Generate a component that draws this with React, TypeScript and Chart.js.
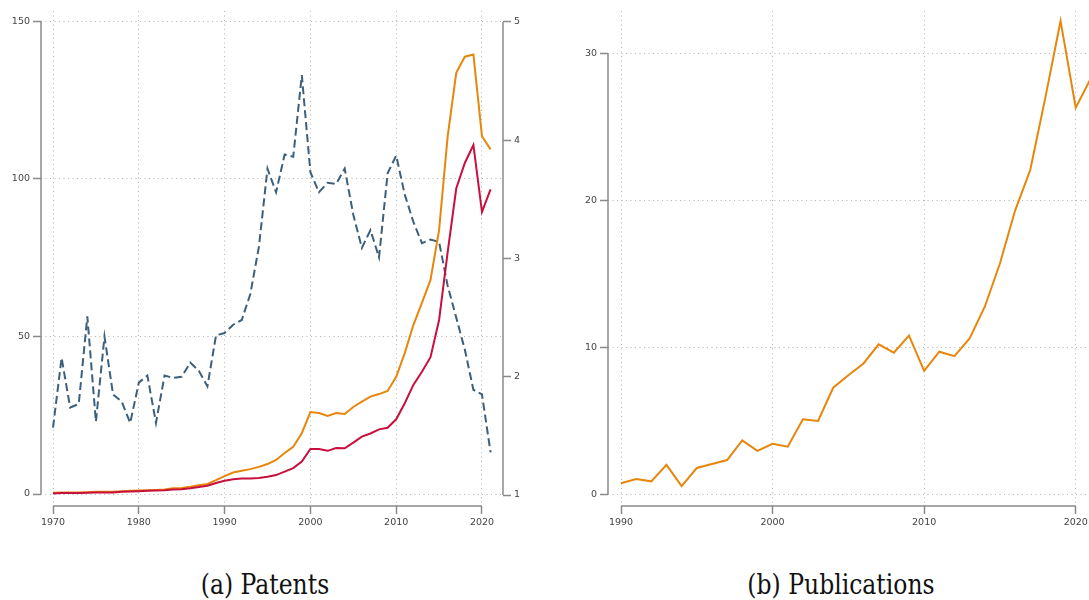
import React, { useEffect, useRef } from "react";
import { Chart, registerables } from "chart.js";

Chart.register(...registerables);

// ---------- Data: (a) Patents ----------
const patentYears = [
  1970, 1971, 1972, 1973, 1974, 1975, 1976, 1977, 1978, 1979,
  1980, 1981, 1982, 1983, 1984, 1985, 1986, 1987, 1988, 1989,
  1990, 1991, 1992, 1993, 1994, 1995, 1996, 1997, 1998, 1999,
  2000, 2001, 2002, 2003, 2004, 2005, 2006, 2007, 2008, 2009,
  2010, 2011, 2012, 2013, 2014, 2015, 2016, 2017, 2018, 2019,
  2020, 2021,
];
const patentsOrange = [
  0.4, 0.5, 0.5, 0.5, 0.6, 0.7, 0.7, 0.7, 0.9, 1.0,
  1.1, 1.2, 1.3, 1.4, 1.8, 1.9, 2.3, 2.8, 3.2, 4.4,
  5.7, 6.8, 7.4, 7.9, 8.6, 9.5, 10.8, 13.0, 15.0, 19.3,
  26.0, 25.7, 24.8, 25.7, 25.4, 27.6, 29.3, 30.9, 31.7, 32.7,
  37.2, 44.7, 53.6, 60.6, 67.9, 83.7, 113.4, 133.6, 138.7, 139.4,
  113.5, 109.3,
];
const patentsRed = [
  0.2, 0.3, 0.3, 0.3, 0.4, 0.5, 0.5, 0.5, 0.7, 0.8,
  0.9, 1.0, 1.1, 1.2, 1.4, 1.5, 1.8, 2.2, 2.6, 3.5,
  4.2, 4.7, 4.9, 4.9, 5.1, 5.5, 6.0, 7.1, 8.2, 10.3,
  14.3, 14.3, 13.7, 14.6, 14.5, 16.3, 18.2, 19.2, 20.5, 21.0,
  23.7, 28.8, 34.6, 38.8, 43.4, 55.2, 76.7, 96.9, 105.0, 110.7,
  89.5, 96.6,
];
const patentsShare = [
  1.57, 2.16, 1.74, 1.77, 2.51, 1.62, 2.34, 1.85, 1.79, 1.61,
  1.95, 2.01, 1.61, 2.01, 1.99, 2.0, 2.12, 2.05, 1.92, 2.35,
  2.37, 2.44, 2.48, 2.7, 3.1, 3.76, 3.56, 3.88, 3.86, 4.55,
  3.73, 3.56, 3.64, 3.63, 3.76, 3.37, 3.09, 3.24, 3.01, 3.72,
  3.87, 3.54, 3.31, 3.13, 3.16, 3.14, 2.77, 2.5, 2.23, 1.89,
  1.85, 1.36,
];
const patentXTicks = [1970, 1980, 1990, 2000, 2010, 2020];
const patentYTicks = [0, 50, 100, 150];
const shareTicks = [1, 2, 3, 4, 5];

// ---------- Data: (b) Publications ----------
const pubYears = [
  1990, 1991, 1992, 1993, 1994, 1995, 1996, 1997, 1998, 1999,
  2000, 2001, 2002, 2003, 2004, 2005, 2006, 2007, 2008, 2009,
  2010, 2011, 2012, 2013, 2014, 2015, 2016, 2017, 2018, 2019,
  2020, 2021,
];
const publications = [
  0.75, 1.04, 0.88, 2.0, 0.56, 1.79, 2.06, 2.33, 3.67, 2.95,
  3.44, 3.24, 5.1, 4.99, 7.25, 8.1, 8.9, 10.2, 9.63, 10.8,
  8.4, 9.7, 9.4, 10.6, 12.76, 15.7, 19.3, 22.06, 27.0, 32.2,
  26.3, 28.3,
];
const pubXTicks = [1990, 2000, 2010, 2020];
const pubYTicks = [0, 10, 20, 30];

const captions = ["(a) Patents", "(b) Publications"];

// ---------- Styles ----------
const ORANGE = "#e8860c";
const RED = "#c8103e";
const BLUE = "#3c5f7c";
const GRID = "#b4b4b4";
const AXIS = "#8a8a8a";
const TICKFONT = { family: "DejaVu Sans", size: 9.5 };
const TICKCOLOR = "#444";

const rangeAxes = {
  id: "rangeAxes",
  afterDraw(chart: any) {
    const ctx = chart.ctx;
    const ca = chart.chartArea;
    ctx.save();
    ctx.strokeStyle = AXIS;
    ctx.lineWidth = 1.5;
    ctx.setLineDash([]);
    for (const id of Object.keys(chart.scales)) {
      const s = chart.scales[id];
      const t = s.ticks;
      if (!t || !t.length) continue;
      const a = s.getPixelForValue(t[0].value);
      const b = s.getPixelForValue(t[t.length - 1].value);
      ctx.beginPath();
      if (s.isHorizontal()) {
        ctx.moveTo(a, ca.bottom);
        ctx.lineTo(b, ca.bottom);
      } else {
        const x = s.position === "right" ? ca.right : ca.left;
        ctx.moveTo(x, a);
        ctx.lineTo(x, b);
      }
      ctx.stroke();
    }
    ctx.restore();
  },
};

function setTicks(vals: number[]) {
  return (scale: any) => {
    scale.ticks = vals.map((v) => ({ value: v }));
  };
}
function fixWidth(w: number) {
  return (scale: any) => {
    scale.width = w;
  };
}
function fixHeight(h: number) {
  return (scale: any) => {
    scale.height = h;
  };
}

function gridOpts(onArea: boolean) {
  return {
    display: true,
    drawOnChartArea: onArea,
    drawTicks: true,
    color: GRID,
    lineWidth: 1,
    tickLength: 8,
    tickColor: AXIS,
    tickWidth: 1.5,
    tickBorderDash: [],
  };
}
const borderOpts = { display: false, dash: [1, 3.5] };
function tickOpts() {
  return {
    font: TICKFONT,
    color: TICKCOLOR,
    padding: 3,
    maxRotation: 0,
    autoSkip: false,
    callback: (v: any) => String(v),
  };
}

export default function App() {
  const leftRef = useRef<HTMLCanvasElement>(null);
  const rightRef = useRef<HTMLCanvasElement>(null);

  useEffect(() => {
    const left = new Chart(leftRef.current as HTMLCanvasElement, {
      type: "line",
      data: {
        datasets: [
          {
            data: patentYears.map((x, i) => ({ x, y: patentsRed[i] })),
            borderColor: RED,
            borderWidth: 2,
            pointRadius: 0,
            yAxisID: "y",
          },
          {
            data: patentYears.map((x, i) => ({ x, y: patentsOrange[i] })),
            borderColor: ORANGE,
            borderWidth: 2,
            pointRadius: 0,
            yAxisID: "y",
          },
          {
            data: patentYears.map((x, i) => ({ x, y: patentsShare[i] })),
            borderColor: BLUE,
            borderWidth: 2,
            borderDash: [8, 4],
            pointRadius: 0,
            yAxisID: "y1",
          },
        ],
      },
      options: {
        animation: false,
        responsive: false,
        devicePixelRatio: 1,
        layout: { padding: { top: 11, left: 0, right: 0, bottom: 0 } },
        plugins: { legend: { display: false }, tooltip: { enabled: false } },
        scales: {
          x: {
            type: "linear",
            min: 1968.6,
            max: 2022.45,
            afterBuildTicks: setTicks(patentXTicks),
            afterFit: fixHeight(34),
            grid: gridOpts(true),
            border: borderOpts,
            ticks: tickOpts(),
          },
          y: {
            type: "linear",
            position: "left",
            min: -3.8,
            max: 153.2,
            afterBuildTicks: setTicks(patentYTicks),
            afterFit: fixWidth(41),
            grid: gridOpts(true),
            border: borderOpts,
            ticks: tickOpts(),
          },
          y1: {
            type: "linear",
            position: "right",
            min: 0.907,
            max: 5.093,
            afterBuildTicks: setTicks(shareTicks),
            afterFit: fixWidth(37),
            grid: gridOpts(false),
            border: borderOpts,
            ticks: tickOpts(),
          },
        },
      } as any,
      plugins: [rangeAxes],
    });

    const right = new Chart(rightRef.current as HTMLCanvasElement, {
      type: "line",
      data: {
        datasets: [
          {
            data: pubYears.map((x, i) => ({ x, y: publications[i] })),
            borderColor: ORANGE,
            borderWidth: 2,
            pointRadius: 0,
          },
        ],
      },
      options: {
        animation: false,
        responsive: false,
        devicePixelRatio: 1,
        layout: { padding: { top: 11, left: 0, right: 7, bottom: 0 } },
        plugins: { legend: { display: false }, tooltip: { enabled: false } },
        scales: {
          x: {
            type: "linear",
            min: 1989.142,
            max: 2022.46,
            afterBuildTicks: setTicks(pubXTicks),
            afterFit: fixHeight(34),
            grid: gridOpts(true),
            border: borderOpts,
            ticks: tickOpts(),
          },
          y: {
            type: "linear",
            position: "left",
            min: -0.796,
            max: 32.877,
            afterBuildTicks: setTicks(pubYTicks),
            afterFit: fixWidth(48),
            grid: gridOpts(true),
            border: borderOpts,
            ticks: tickOpts(),
          },
        },
      } as any,
      plugins: [rangeAxes],
    });

    return () => {
      left.destroy();
      right.destroy();
    };
  }, []);

  const captionStyle = (cx: number): React.CSSProperties => ({
    position: "absolute",
    left: cx - 200,
    width: 400,
    top: 571,
    textAlign: "center",
    fontFamily: "'DejaVu Serif', serif",
    fontSize: 27,
    lineHeight: "28px",
    color: "#111",
    whiteSpace: "nowrap",
    transform: "scaleX(0.87)",
    transformOrigin: "center",
  });

  return (
    <div
      style={{
        position: "absolute",
        left: 0,
        top: 0,
        width: 1089,
        height: 600,
        overflow: "hidden",
        background: "#fff",
      }}
    >
      <canvas
        ref={leftRef}
        width={540}
        height={540}
        style={{ position: "absolute", left: 0, top: 0, width: 540, height: 540 }}
      />
      <canvas
        ref={rightRef}
        width={560}
        height={540}
        style={{ position: "absolute", left: 560, top: 0, width: 560, height: 540 }}
      />
      <div style={captionStyle(265)}>{captions[0]}</div>
      <div style={captionStyle(841)}>{captions[1]}</div>
    </div>
  );
}
